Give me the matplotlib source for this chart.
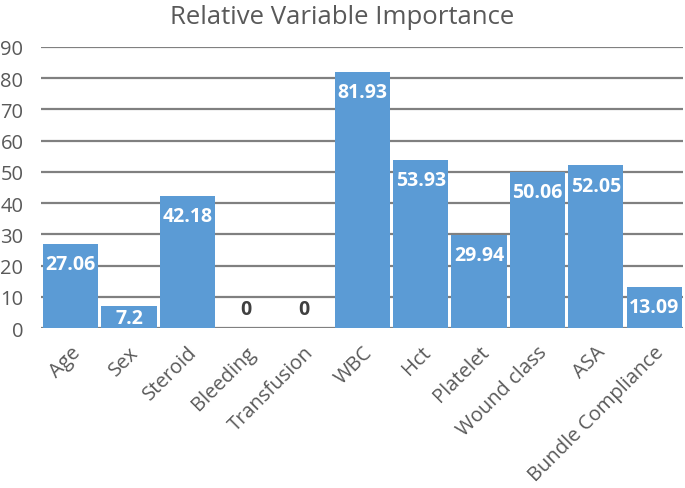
import numpy as np
import matplotlib.pyplot as plt

# data
names = ["Age", "Sex", "Steroid", "Bleeding", "Transfusion", "WBC", "Hct",
         "Platelet", "Wound class", "ASA", "Bundle Compliance"]
importance = [27.06, 7.2, 42.18, 0, 0, 81.93, 53.93, 29.94, 50.06, 52.05, 13.09]
yticks = [0, 10, 20, 30, 40, 50, 60, 70, 80, 90]

plt.rcParams['font.family'] = ['Open Sans', 'DejaVu Sans']
gray = '#595959'

fig = plt.figure(figsize=(6.85, 4.89), dpi=100)
ax = fig.add_axes([0.0605, 0.327, 0.937, 0.575])

x = np.arange(len(names))
bars = ax.bar(x, importance, width=0.945, color='#5B9BD5', linewidth=0, zorder=3)

ax.set_xlim(-0.5, len(names) - 0.5)
ax.set_ylim(0, 90)
ax.set_yticks(yticks)
ax.grid(axis='y', color='#808080', linewidth=1.6, zorder=0)
ax.set_axisbelow(True)
for s in ax.spines.values():
    s.set_visible(False)
ax.tick_params(axis='both', length=0, labelsize=14.5, labelcolor=gray)
ax.tick_params(axis='y', pad=13)
ax.set_xticks(x)
ax.set_xticklabels(names, rotation=45, ha='right', va='top', rotation_mode='anchor')
ax.tick_params(axis='x', pad=10)

fig.text(0.5, 0.99, "Relative Variable Importance", fontsize=18.5, color=gray,
         ha='center', va='top')

# px per data unit (for keeping small labels inside their bars)
px_per_unit = 0.575 * 489 / 90
for xi, v in zip(x, importance):
    if v == 0:
        ax.annotate("0", (xi, 0), xytext=(0, 14), textcoords='offset points',
                    ha='center', va='center', fontsize=14, fontweight='bold',
                    color='#404040', zorder=4)
    else:
        off = min(14.5, (v * px_per_unit - 10) * 0.72)
        ax.annotate(f"{v:g}", (xi, v), xytext=(0, -off), textcoords='offset points',
                    ha='center', va='center', fontsize=14, fontweight='bold',
                    color='white', zorder=4)

fig.savefig("out.png", dpi=100)
